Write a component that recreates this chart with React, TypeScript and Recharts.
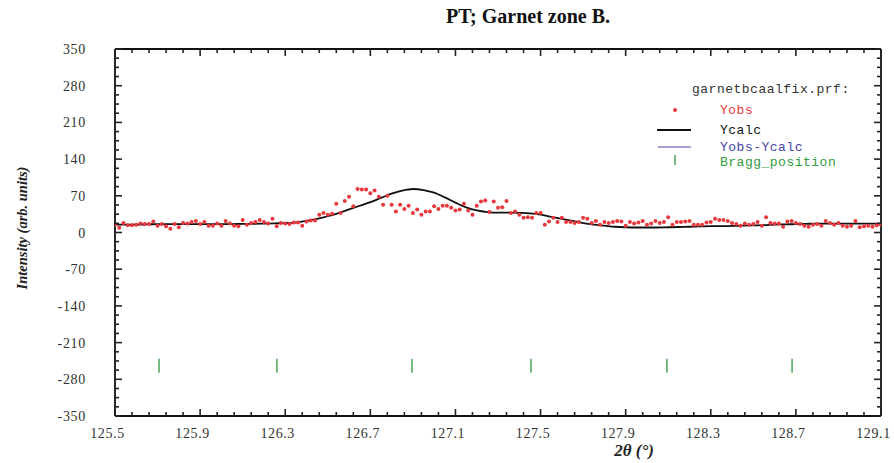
import { ComposedChart, Line, Scatter, XAxis, YAxis } from 'recharts'

// observed profile, 0.02 deg step starting at 125.50
const OBS_START = 125.5
const OBS_STEP = 0.02
const yObs = [
  15, 9, 18, 14, 14, 15, 17, 16, 16, 21,
  13, 16, 12, 7, 16, 10, 18, 17, 20, 22,
  16, 20, 13, 13, 17, 13, 22, 17, 13, 12,
  24, 15, 18, 20, 24, 20, 17, 26, 12, 18,
  17, 16, 19, 19, 13, 21, 23, 23, 34, 37,
  34, 36, 55, 37, 60, 68, 50, 83, 82, 82,
  75, 80, 68, 53, 70, 53, 40, 53, 45, 51,
  37, 44, 34, 40, 40, 50, 45, 51, 51, 47,
  42, 44, 55, 42, 34, 51, 59, 61, 39, 59,
  47, 48, 60, 37, 40, 34, 28, 29, 28, 37,
  37, 15, 21, 28, 20, 28, 20, 20, 18, 20,
  28, 26, 18, 22, 15, 20, 18, 20, 22, 21,
  13, 20, 17, 19, 22, 15, 17, 22, 18, 20,
  29, 15, 20, 20, 21, 22, 15, 15, 15, 19,
  20, 26, 24, 24, 22, 18, 16, 13, 17, 15,
  16, 20, 13, 29, 18, 17, 17, 11, 21, 22,
  18, 16, 13, 11, 15, 16, 13, 22, 18, 15,
  18, 13, 11, 13, 22, 10, 12, 13, 11, 14,
  15,
]

// calculated profile, 0.05 deg step starting at 125.50
const CALC_START = 125.5
const CALC_STEP = 0.05
const yCalc = [
  15, 15, 15, 15.5, 16, 16, 16, 16, 16, 16,
  16, 16, 16.5, 16.5, 17, 17.5, 18, 19, 22, 26,
  31, 37, 44, 51, 58, 66, 74, 80, 83, 81,
  76, 67, 57, 48, 42, 39, 38, 38, 37.5, 36.5,
  34, 30, 26, 22, 18, 15, 13, 11, 10, 9.5,
  9.5, 9.5, 10, 10.5, 11, 11.5, 12, 12, 12.5, 13,
  13.5, 14, 15, 15.5, 16, 16.5, 17, 17, 17, 17,
  17, 17, 17,
]

const braggPositions = [125.707, 126.261, 126.896, 127.455, 128.094, 128.682]
const BRAGG_LEVEL = -254

const xMajor = [125.5, 125.9, 126.3, 126.7, 127.1, 127.5, 127.9, 128.3, 128.7, 129.1]
const yMajor = [-350, -280, -210, -140, -70, 0, 70, 140, 210, 280, 350]

const obsData = yObs.map((y, i) => ({ t: +(OBS_START + i * OBS_STEP).toFixed(2), y }))
const calcData = yCalc.map((y, i) => ({ t: +(CALC_START + i * CALC_STEP).toFixed(2), y }))
const braggData = braggPositions.map((t) => ({ t, y: BRAGG_LEVEL }))

// minor ticks: 5 per x interval, 4 per y interval
const subdivide = (major: number[], n: number) => {
  const out: number[] = []
  for (let i = 0; i < major.length - 1; i++) {
    for (let k = 0; k < n; k++) out.push(+(major[i] + ((major[i + 1] - major[i]) * k) / n).toFixed(3))
  }
  out.push(major[major.length - 1])
  return out
}
const xTicks = subdivide(xMajor, 5)
const yTicks = subdivide(yMajor, 4)

const isMajor = (list: number[], v: number) => list.some((m) => Math.abs(m - v) < 1e-6)

const SERIF = '"Liberation Serif", "Times New Roman", serif'
const MONO = '"Liberation Mono", "Courier New", monospace'
const FRAME = { stroke: '#111', strokeWidth: 1.8 }
const MAJOR_LEN = 7
const MINOR_LEN = 4
const TICK_W = 1.6
const TICK_COLOR = '#222'

// frame ticks all point inward
const BottomTick = (props: any) => {
  const { x, y, payload } = props
  const major = isMajor(xMajor, payload.value)
  return (
    <g>
      <path d={`M${x},${y}v${-(major ? MAJOR_LEN : MINOR_LEN)}`} stroke={TICK_COLOR} strokeWidth={TICK_W} fill="none" />
      {major && (
        <text x={x - 7.5} y={y + 22} textAnchor="middle" fontFamily={SERIF} fontSize={14} fill="#333" letterSpacing={0.6}>
          {payload.value.toFixed(1)}
        </text>
      )}
    </g>
  )
}

const TopTick = (props: any) => {
  const { x, y, payload } = props
  const major = isMajor(xMajor, payload.value)
  return <path d={`M${x},${y}v${major ? MAJOR_LEN : MINOR_LEN}`} stroke={TICK_COLOR} strokeWidth={TICK_W} fill="none" />
}

const LeftTick = (props: any) => {
  const { x, y, payload } = props
  const major = isMajor(yMajor, payload.value)
  return (
    <g>
      <path d={`M${x},${y}h${major ? MAJOR_LEN : MINOR_LEN}`} stroke={TICK_COLOR} strokeWidth={TICK_W} fill="none" />
      {major && (
        <text x={x - 29} y={y + 5} textAnchor="end" fontFamily={SERIF} fontSize={14} fill="#333" letterSpacing={0.7}>
          {payload.value}
        </text>
      )}
    </g>
  )
}

const RightTick = (props: any) => {
  const { x, y, payload } = props
  const major = isMajor(yMajor, payload.value)
  return <path d={`M${x},${y}h${-(major ? MAJOR_LEN : MINOR_LEN)}`} stroke={TICK_COLOR} strokeWidth={TICK_W} fill="none" />
}

const ObsDot = (props: any) => <circle cx={props.cx} cy={props.cy} r={2} fill="#e8383b" />

const BraggTick = (props: any) => (
  <path d={`M${props.cx},${props.cy - 7}v14`} stroke="#2f9a3f" strokeWidth={1.3} fill="none" />
)

export default function App() {
  return (
    <div style={{ position: 'absolute', left: 0, top: 0, width: 894, height: 463, background: '#fff' }}>
      <ComposedChart width={894} height={463} margin={{ top: 48, right: 12, bottom: 0, left: 0 }}>
        <XAxis xAxisId={0} dataKey="t" type="number" domain={[125.5, 129.1]} ticks={xTicks} interval={0} height={47}
          tickSize={0} tickMargin={0} tickLine={false} axisLine={FRAME} tick={BottomTick} allowDataOverflow />
        <XAxis xAxisId="top" orientation="top" dataKey="t" type="number" domain={[125.5, 129.1]} ticks={xTicks} interval={0} height={1}
          tickSize={0} tickMargin={0} tickLine={false} axisLine={FRAME} tick={TopTick} allowDataOverflow />
        <YAxis yAxisId={0} dataKey="y" type="number" domain={[-350, 350]} ticks={yTicks} interval={0} width={115}
          tickSize={0} tickMargin={0} tickLine={false} axisLine={FRAME} tick={LeftTick} allowDataOverflow />
        <YAxis yAxisId="right" orientation="right" dataKey="y" type="number" domain={[-350, 350]} ticks={yTicks} interval={0} width={1}
          tickSize={0} tickMargin={0} tickLine={false} axisLine={FRAME} tick={RightTick} allowDataOverflow />
        {/* invisible series so the top and right frame axes carry ticks */}
        <Line xAxisId="top" yAxisId="right" data={calcData} dataKey="y" stroke="none" dot={false} legendType="none" isAnimationActive={false} />
        <Scatter data={obsData} dataKey="y" shape={ObsDot} isAnimationActive={false} />
        <Line data={calcData} dataKey="y" type="monotone" stroke="#111" strokeWidth={1.8} dot={false} isAnimationActive={false} />
        <Scatter data={braggData} dataKey="y" shape={BraggTick} isAnimationActive={false} />
      </ComposedChart>

      <div style={{ position: 'absolute', left: 0, width: 1056, top: 5, textAlign: 'center', fontFamily: SERIF, fontWeight: 'bold', fontSize: 20, color: '#111' }}>
        PT; Garnet zone B.
      </div>

      <svg width={894} height={463} style={{ position: 'absolute', left: 0, top: 0, pointerEvents: 'none' }}>
        <text transform="translate(27,228) rotate(-90)" textAnchor="middle" fontFamily={SERIF} fontWeight="bold" fontStyle="italic" fontSize={14.5} fill="#222">
          Intensity (arb. units)
        </text>
        <text x={634} y={456} textAnchor="middle" fontFamily={SERIF} fontWeight="bold" fontStyle="italic" fontSize={17} fill="#222">
          2θ (°)
        </text>
        <g fontFamily={MONO} fontSize={13} letterSpacing={0.5}>
          <text x={692} y={93} fill="#333">garnetbcaalfix.prf:</text>
          <circle cx={675} cy={110} r={2} fill="#e8383b" />
          <text x={720} y={114} fill="#e8383b">Yobs</text>
          <path d="M657,130h34" stroke="#111" strokeWidth={1.8} />
          <text x={720} y={134} fill="#111">Ycalc</text>
          <path d="M658,147h33" stroke="#4646a8" strokeWidth={1.2} />
          <text x={720} y={151} fill="#4646a8">Yobs-Ycalc</text>
          <path d="M675,155v10" stroke="#2f9a3f" strokeWidth={1.3} />
          <text x={720} y={166} fill="#2f9a3f">Bragg_position</text>
        </g>
      </svg>
    </div>
  )
}
